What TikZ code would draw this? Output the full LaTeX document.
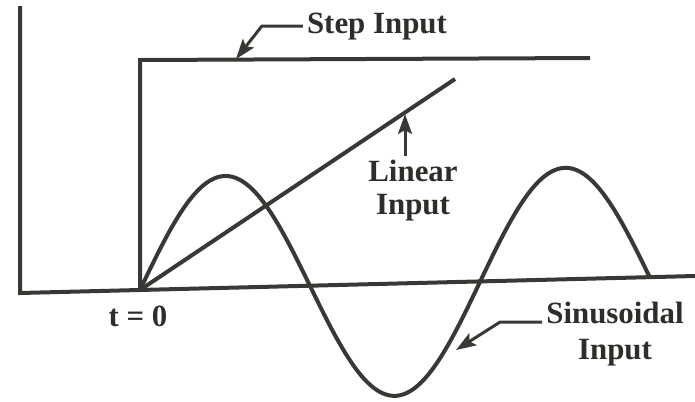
\documentclass[tikz,border=0pt]{standalone}
\usepackage{fontspec}
\setmainfont{Liberation Serif}
\usetikzlibrary{arrows.meta}
\definecolor{ink}{HTML}{3A3835}
\tikzset{
  curve/.style={ink,line width=4bp},
  callout/.style={ink,line width=3bp,-{Stealth[length=20bp,width=14bp,inset=4bp]}},
  lbl/.style={text=ink!80!black,font=\bfseries\fontsize{31}{33}\selectfont,inner sep=4bp,align=center}
}
\begin{document}
\begin{tikzpicture}[x=1bp,y=-1bp]
  \useasboundingbox (0,0) rectangle (695,401);
  % axes
  \draw[curve] (20,6) -- (20,293) -- (695,276);
  % step, ramp and sine, all starting at t = 0
  \draw[curve] (140,290) -- (140,60) -- (590,58);
  \draw[curve] (140,290) -- (455,79);
  \draw[curve,domain=0:510,samples=140,smooth] plot ({140+\x},{290-0.024*\x-112*sin(1.0588*\x)});
  % labels
  \node[lbl,anchor=base] (steplbl) at (377,33) {Step Input};
  \node[lbl] (linlbl) at (413,191) {Linear\\Input};
  \node[lbl,font=\bfseries\fontsize{31}{36}\selectfont] (sinlbl) at (615,334) {Sinusoidal\\Input};
  \node[lbl,anchor=base] (tzero) at (138,326) {t = 0};
  \coordinate (steptip) at (236,59);
  \coordinate (lintip) at (405,114);
  \coordinate (sintip) at (456,350);
  \draw[callout] (steplbl.west) -- ++(-41,0) -- (steptip);
  \draw[callout] (lintip |- linlbl.north) -- (lintip);
  \draw[callout] ([yshift=12bp]sinlbl.west) -- ++(-42,0) -- (sintip);
\end{tikzpicture}
\end{document}
